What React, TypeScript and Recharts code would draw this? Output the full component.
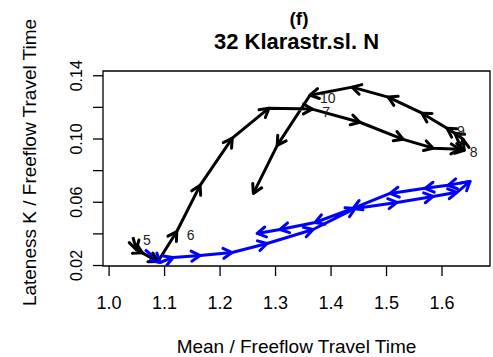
import React from 'react';
import { LineChart, Line, XAxis, YAxis, ReferenceArea, Label } from 'recharts';

// Black series (with hour labels)
const blackX = [1.043, 1.049, 1.060, 1.088, 1.122, 1.164, 1.222, 1.288, 1.366, 1.452, 1.530, 1.584, 1.632, 1.640, 1.638, 1.623, 1.609, 1.564, 1.503, 1.438, 1.362, 1.303, 1.260];
const blackY = [0.038, 0.030, 0.028, 0.0225, 0.0415, 0.0707, 0.1005, 0.1195, 0.1189, 0.1106, 0.0998, 0.0942, 0.0935, 0.0929, 0.0998, 0.1037, 0.1068, 0.1163, 0.1265, 0.1328, 0.1277, 0.0960, 0.0656];
const hourLabels = ['5', '', '', '', '6', '', '', '', '7', '', '', '', '8', '', '', '', '9', '', '', '', '10', '', ''];

// Blue series
const blueX = [1.0649, 1.0919, 1.1153, 1.164, 1.2216, 1.2847, 1.3676, 1.4432, 1.5189, 1.5838, 1.627, 1.6505, 1.6108, 1.5694, 1.5063, 1.4396, 1.3712, 1.3081, 1.2667];
const blueY = [0.0301, 0.0219, 0.0251, 0.0263, 0.0282, 0.0339, 0.0428, 0.0561, 0.0599, 0.0637, 0.0663, 0.0732, 0.0707, 0.0688, 0.0656, 0.0561, 0.0472, 0.0428, 0.0403];

const xTicks = [1.0, 1.1, 1.2, 1.3, 1.4, 1.5, 1.6];
const xTickLabels = ['1.0', '1.1', '1.2', '1.3', '1.4', '1.5', '1.6'];
const yTicks = [0.02, 0.04, 0.06, 0.08, 0.10, 0.12, 0.14];
const yTickLabels = ['0.02', '', '0.06', '', '0.10', '', '0.14'];

const xDomain = [0.989, 1.6865];
const yDomain = [0.0197, 0.143];

const titleTop = '(f)';
const titleMain = '32 Klarastr.sl. N';
const xTitle = 'Mean / Freeflow  Travel Time';
const yTitle = 'Lateness K / Freeflow Travel Time';

const FONT = '"Liberation Sans", Arial, Helvetica, sans-serif';

const blackData = blackX.map((x, i) => ({ x, y: blackY[i], label: hourLabels[i] }));
const blueData = blueX.map((x, i) => ({ x, y: blueY[i], label: '' }));

function makeArrowDot(color: string) {
  const store: Record<number, [number, number]> = {};
  return (props: any) => {
    const { cx, cy, index, payload } = props;
    store[index] = [cx, cy];
    const prev = index > 0 ? store[index - 1] : undefined;
    let head = null;
    if (prev) {
      const ang = Math.atan2(cy - prev[1], cx - prev[0]);
      const len = 10;
      const spread = Math.PI / 6;
      const ax = cx - len * Math.cos(ang - spread);
      const ay = cy - len * Math.sin(ang - spread);
      const bx = cx - len * Math.cos(ang + spread);
      const by = cy - len * Math.sin(ang + spread);
      head = (
        <path
          d={`M${ax},${ay}L${cx},${cy}L${bx},${by}`}
          fill="none"
          stroke={color}
          strokeWidth={3}
          strokeLinecap="round"
          strokeLinejoin="round"
        />
      );
    }
    return (
      <g key={`dot-${color}-${index}`}>
        {head}
        {payload && payload.label ? (
          <text x={cx + 10} y={cy + 8} fontSize={14} fontFamily={FONT} fill="#222">
            {payload.label}
          </text>
        ) : null}
      </g>
    );
  };
}

const blackDot = makeArrowDot('#000000');
const blueDot = makeArrowDot('#0000ff');

const XTick = (props: any) => {
  const { x, y, index } = props;
  return (
    <text x={x} y={y + 33} textAnchor="middle" fontSize={18} fontFamily={FONT} fill="#000">
      {xTickLabels[index] ?? ''}
    </text>
  );
};

const YTick = (props: any) => {
  const { x, y, index } = props;
  const label = yTickLabels[index] ?? '';
  const bx = x - 11;
  return (
    <text
      x={bx}
      y={y}
      textAnchor="middle"
      fontSize={16}
      fontFamily={FONT}
      fill="#000"
      transform={`rotate(-90, ${bx}, ${y})`}
    >
      {label}
    </text>
  );
};

export default function App() {
  return (
    <div style={{ position: 'absolute', left: 0, top: 0, width: 493, height: 357, background: '#fff' }}>
      <svg
        width={493}
        height={60}
        style={{ position: 'absolute', left: 0, top: 0, pointerEvents: 'none' }}
      >
        <text x={299} y={25} textAnchor="middle" fontSize={19} fontWeight="bold" fontFamily={FONT} fill="#000">
          {titleTop}
        </text>
        <text x={296.5} y={49} textAnchor="middle" fontSize={22} fontWeight="bold" fontFamily={FONT} fill="#000">
          {titleMain}
        </text>
      </svg>
      <LineChart width={493} height={357} margin={{ top: 71, right: 3, bottom: 0, left: 3 }}>
        <XAxis
          type="number"
          dataKey="x"
          domain={xDomain}
          allowDataOverflow
          ticks={xTicks}
          interval={0}
          tickSize={10}
          tickMargin={0}
          axisLine={false}
          tickLine={{ stroke: '#000', strokeWidth: 1.3 }}
          tick={<XTick />}
          height={91}
        >
          <Label
            content={(p: any) => {
              const vb = p.viewBox || { x: 103, y: 266, width: 387, height: 91 };
              return (
                <text x={vb.x + vb.width / 2} y={353} textAnchor="middle" fontSize={19} fontFamily={FONT} fill="#000">
                  {xTitle}
                </text>
              );
            }}
          />
        </XAxis>
        <YAxis
          type="number"
          dataKey="y"
          domain={yDomain}
          allowDataOverflow
          ticks={yTicks}
          interval={0}
          tickSize={10}
          tickMargin={0}
          axisLine={false}
          tickLine={{ stroke: '#000', strokeWidth: 1.3 }}
          tick={<YTick />}
          width={100}
        >
          <Label
            content={(p: any) => {
              const vb = p.viewBox || { x: 3, y: 71, width: 100, height: 195 };
              const cy = vb.y + vb.height / 2 - 6;
              return (
                <text
                  x={36}
                  y={cy}
                  textAnchor="middle"
                  fontSize={19}
                  fontFamily={FONT}
                  fill="#000"
                  transform={`rotate(-90, 36, ${cy})`}
                >
                  {yTitle}
                </text>
              );
            }}
          />
        </YAxis>
        <ReferenceArea
          x1={xDomain[0]}
          x2={xDomain[1]}
          y1={yDomain[0]}
          y2={yDomain[1]}
          fill="none"
          fillOpacity={0}
          stroke="#000"
          strokeWidth={1.3}
          ifOverflow="visible"
        />
        <Line
          data={blackData}
          dataKey="y"
          type="linear"
          stroke="#000"
          strokeWidth={3}
          strokeLinejoin="round"
          dot={blackDot}
          activeDot={false}
          isAnimationActive={false}
        />
        <Line
          data={blueData}
          dataKey="y"
          type="linear"
          stroke="#0000ff"
          strokeWidth={3}
          strokeLinejoin="round"
          dot={blueDot}
          activeDot={false}
          isAnimationActive={false}
        />
      </LineChart>
    </div>
  );
}
